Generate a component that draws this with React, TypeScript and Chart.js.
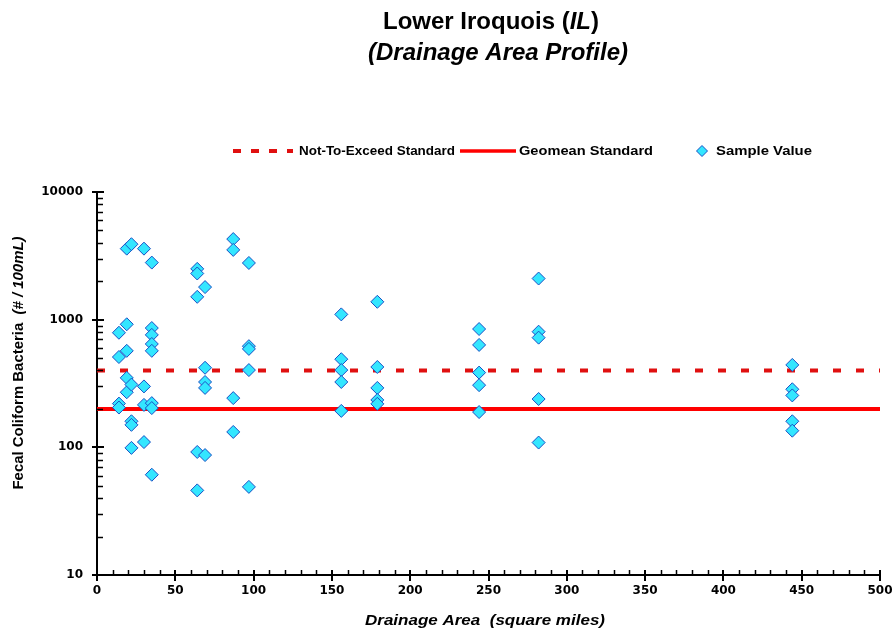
import React, { useEffect, useRef } from "react";
import { Chart, registerables } from "chart.js";

Chart.register(...registerables);

// ---- Data ----
const siteAreas = [14, 19, 22, 30, 35, 64, 69, 87, 97, 156, 179, 244, 282, 444];
const site14 = [790, 510, 220, 205];
const site19 = [3600, 920, 570, 350, 270];
const site22 = [3900, 310, 160, 150, 99];
const site30 = [3600, 300, 215, 110];
const site35 = [2800, 860, 760, 645, 570, 222, 203, 61];
const site64 = [2500, 2300, 1510, 92, 46];
const site69 = [1800, 420, 325, 292, 87];
const site87 = [4280, 3520, 243, 132];
const site97 = [2780, 620, 590, 403, 49];
const site156 = [1100, 490, 403, 325, 193];
const site179 = [1380, 426, 292, 235, 219];
const site244 = [845, 634, 385, 307, 189];
const site282 = [2100, 805, 723, 239, 109];
const site444 = [442, 285, 255, 160, 135];
const siteSamples = [site14, site19, site22, site30, site35, site64, site69, site87, site97, site156, site179, site244, site282, site444];

const notToExceedStandard = 400;
const geomeanStandard = 200;
const xRange = [0, 500];
const xStep = 50;
const xMinorStep = 10;
const yTickValues = [10, 100, 1000, 10000];

const titleMain = "Lower Iroquois (";
const titleItalic = "IL";
const titleEnd = ")";
const subtitle = "(Drainage Area Profile)";
const xTitle = "Drainage Area  (square miles)";
const yTitleMain = "Fecal Coliform Bacteria  ";
const yTitleItalic = "(# / 100mL)";
const legendLabels = ["Not-To-Exceed Standard", "Geomean Standard", "Sample Value"];

const SANS = '"Liberation Sans", Arial, sans-serif';
const TICKFONT = '"DejaVu Sans", sans-serif';

type Run = { text: string; font: string };

function drawRuns(ctx: CanvasRenderingContext2D, runs: Run[], cx: number, cy: number, targetW: number | null, rotate = false, align: "center" | "left" = "center") {
  ctx.save();
  const widths = runs.map((r) => {
    ctx.font = r.font;
    return ctx.measureText(r.text).width;
  });
  const total = widths.reduce((a, b) => a + b, 0);
  const s = targetW ? targetW / total : 1;
  ctx.translate(cx, cy);
  if (rotate) ctx.rotate(-Math.PI / 2);
  ctx.scale(s, 1);
  ctx.textBaseline = "middle";
  ctx.textAlign = "left";
  ctx.fillStyle = "#000";
  let x = align === "center" ? -total / 2 : 0;
  runs.forEach((r, i) => {
    ctx.font = r.font;
    ctx.fillText(r.text, x, 0);
    x += widths[i];
  });
  ctx.restore();
}

const decorPlugin = {
  id: "decor",
  afterDraw(chart: any) {
    const ctx: CanvasRenderingContext2D = chart.ctx;
    const area = chart.chartArea;
    const xs = chart.scales.x;
    const ys = chart.scales.y;

    // axis tick marks
    ctx.save();
    ctx.strokeStyle = "#000";
    ctx.lineWidth = 1.5;
    ctx.beginPath();
    for (let d = 10; d < 10000; d *= 10) {
      for (let m = 2; m <= 9; m++) {
        const py = Math.round(ys.getPixelForValue(d * m)) + 0.5;
        ctx.moveTo(area.left, py);
        ctx.lineTo(area.left + 6, py);
      }
    }
    for (let v = xRange[0]; v <= xRange[1]; v += xMinorStep) {
      if (v % xStep === 0) continue;
      const px = Math.round(xs.getPixelForValue(v)) + 0.5;
      ctx.moveTo(px, area.bottom);
      ctx.lineTo(px, area.bottom - 5);
    }
    ctx.stroke();
    ctx.lineWidth = 2;
    ctx.beginPath();
    yTickValues.forEach((v) => {
      const py = Math.round(ys.getPixelForValue(v));
      ctx.moveTo(area.left - 5, py);
      ctx.lineTo(area.left + 7, py);
    });
    for (let v = xRange[0]; v <= xRange[1]; v += xStep) {
      const px = Math.round(xs.getPixelForValue(v));
      ctx.moveTo(px, area.bottom - 5);
      ctx.lineTo(px, area.bottom + 6);
    }
    ctx.stroke();
    ctx.restore();

    // title
    drawRuns(ctx, [
      { text: titleMain, font: `bold 24px ${SANS}` },
      { text: titleItalic, font: `italic bold 24px ${SANS}` },
      { text: titleEnd, font: `bold 24px ${SANS}` },
    ], 491, 22, null);
    drawRuns(ctx, [{ text: subtitle, font: `italic bold 24px ${SANS}` }], 498, 53, null);

    // axis titles
    drawRuns(ctx, [
      { text: yTitleMain, font: `bold 15px ${SANS}` },
      { text: yTitleItalic, font: `italic bold 15px ${SANS}` },
    ], 19, 363, 253, true);
    drawRuns(ctx, [{ text: xTitle, font: `italic bold 15px ${SANS}` }], 485, 621, 240);

    // legend
    const ly = 151;
    ctx.save();
    ctx.strokeStyle = "#e01010";
    ctx.lineWidth = 4;
    ctx.setLineDash([8, 10]);
    ctx.beginPath();
    ctx.moveTo(233, ly);
    ctx.lineTo(293, ly);
    ctx.stroke();
    ctx.setLineDash([]);
    ctx.strokeStyle = "#ff0000";
    ctx.lineWidth = 3.5;
    ctx.beginPath();
    ctx.moveTo(460, ly);
    ctx.lineTo(516, ly);
    ctx.stroke();
    ctx.restore();
    ctx.save();
    ctx.fillStyle = "#33e6ff";
    ctx.strokeStyle = "#1a4fc4";
    ctx.lineWidth = 1;
    ctx.beginPath();
    ctx.moveTo(702, ly - 5.5);
    ctx.lineTo(707.5, ly);
    ctx.lineTo(702, ly + 5.5);
    ctx.lineTo(696.5, ly);
    ctx.closePath();
    ctx.fill();
    ctx.stroke();
    ctx.restore();
    drawRuns(ctx, [{ text: legendLabels[0], font: `bold 13px ${SANS}` }], 299, ly, 156, false, "left");
    drawRuns(ctx, [{ text: legendLabels[1], font: `bold 13px ${SANS}` }], 519, ly, 134, false, "left");
    drawRuns(ctx, [{ text: legendLabels[2], font: `bold 13px ${SANS}` }], 716, ly, 96, false, "left");
  },
};

export default function App() {
  const ref = useRef<HTMLCanvasElement | null>(null);
  useEffect(() => {
    if (!ref.current) return;
    const points = siteAreas.flatMap((a, i) => siteSamples[i].map((v) => ({ x: a, y: v })));
    const tickFont = { family: TICKFONT, weight: "bold" as const, size: 12 };
    const chart = new Chart(ref.current, {
      type: "scatter",
      data: {
        datasets: [
          {
            label: legendLabels[2],
            data: points,
            pointStyle: "rectRot",
            pointRadius: 6.5,
            backgroundColor: "#33e6ff",
            borderColor: "#1a4fc4",
            borderWidth: 1,
            order: 0,
          } as any,
          {
            type: "line",
            label: legendLabels[1],
            data: [{ x: xRange[0], y: geomeanStandard }, { x: xRange[1], y: geomeanStandard }],
            borderColor: "#ff0000",
            borderWidth: 4,
            pointRadius: 0,
            order: 1,
          } as any,
          {
            type: "line",
            label: legendLabels[0],
            data: [{ x: xRange[0], y: notToExceedStandard }, { x: xRange[1], y: notToExceedStandard }],
            borderColor: "#e01010",
            borderWidth: 4,
            borderDash: [8, 15],
            borderCapStyle: "butt",
            pointRadius: 0,
            order: 2,
          } as any,
        ],
      },
      options: {
        responsive: false,
        animation: false,
        devicePixelRatio: 1,
        layout: { padding: { top: 192, right: 15, left: 0, bottom: 0 } },
        plugins: {
          legend: { display: false },
          title: { display: false },
          tooltip: { enabled: false },
        },
        scales: {
          x: {
            type: "linear",
            min: xRange[0],
            max: xRange[1],
            ticks: { stepSize: xStep, color: "#000", font: tickFont, padding: 9, maxRotation: 0, autoSkip: false },
            grid: { display: false, drawTicks: false },
            border: { display: true, color: "#000", width: 2 },
            afterFit: (s: any) => { s.height = 66; s.paddingLeft = 0; s.paddingRight = 0; },
          },
          y: {
            type: "logarithmic",
            min: yTickValues[0],
            max: yTickValues[yTickValues.length - 1],
            afterBuildTicks: (s: any) => { s.ticks = yTickValues.map((v) => ({ value: v })); },
            ticks: { color: "#000", font: tickFont, padding: 14, callback: (v: any) => String(v) },
            grid: { display: false, drawTicks: false },
            border: { display: true, color: "#000", width: 2 },
            afterFit: (s: any) => { s.width = 97; s.paddingTop = 0; s.paddingBottom = 0; },
          },
        },
      } as any,
      plugins: [decorPlugin],
    });
    return () => chart.destroy();
  }, []);
  return (
    <div style={{ position: "absolute", left: 0, top: 0, width: 895, height: 641, background: "#fff" }}>
      <canvas ref={ref} width={895} height={641} />
    </div>
  );
}
